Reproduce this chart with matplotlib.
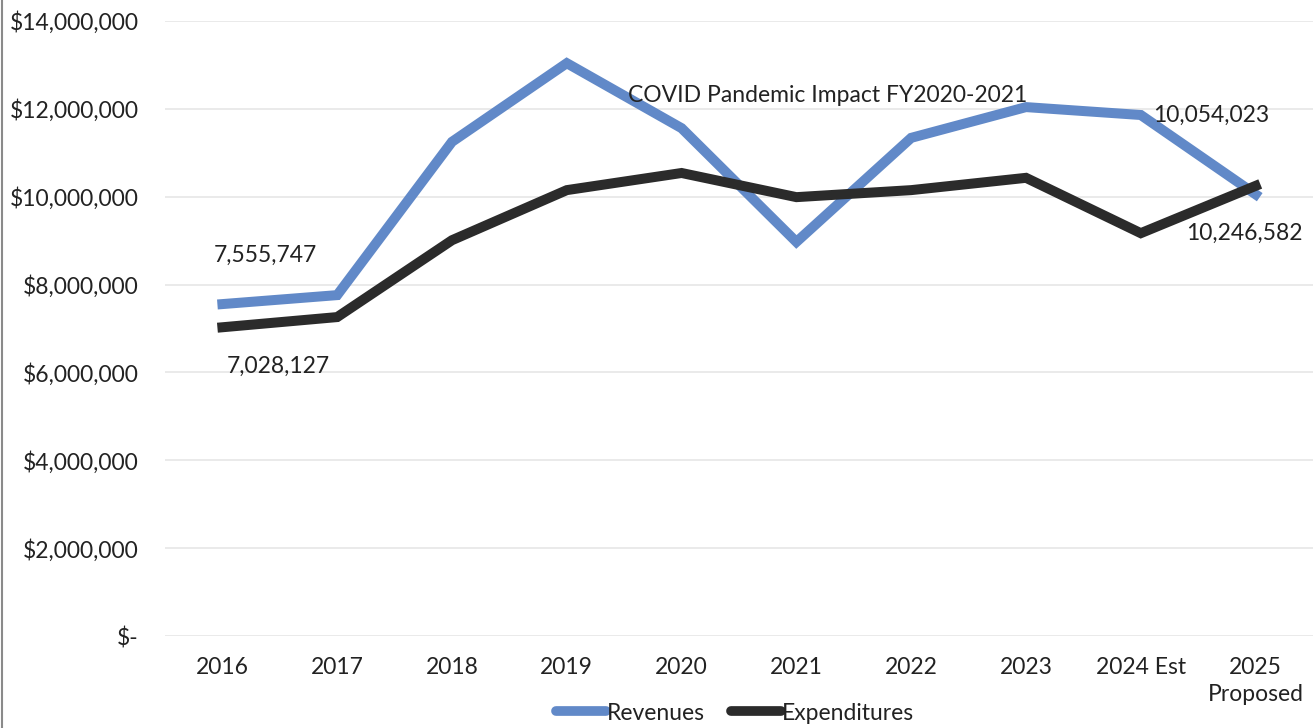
import matplotlib
matplotlib.use("Agg")
import matplotlib.pyplot as plt
from matplotlib.ticker import FuncFormatter
from matplotlib.lines import Line2D

plt.rcParams['font.family'] = ['Lato', 'DejaVu Sans']

years = ["2016", "2017", "2018", "2019", "2020", "2021", "2022", "2023",
         "2024 Est", "2025\nProposed"]
revenues = [7555747, 7760000, 11250000, 13040000, 11560000, 8970000,
            11340000, 12040000, 11860000, 10054023]
expenditures = [7028127, 7260000, 9010000, 10150000, 10540000, 9990000,
                10150000, 10430000, 9170000, 10246582]
y_ticks = [0, 2000000, 4000000, 6000000, 8000000, 10000000, 12000000, 14000000]
note = "COVID Pandemic Impact FY2020-2021"

blue = "#6189c8"
dark = "#2b2b2b"
fs = 16.5

fig = plt.figure(figsize=(13.13, 7.28), dpi=100)
ax = fig.add_axes([165 / 1313, 1 - 636 / 728, 1 - 165 / 1313, (636 - 21) / 728])

x = list(range(len(years)))
ax.plot(x, revenues, color=blue, lw=7.2, solid_joinstyle='miter', zorder=3)
ax.plot(x, expenditures, color=dark, lw=7.2, solid_joinstyle='miter', zorder=4)

ax.set_xlim(-0.5, len(years) - 0.5)
ax.set_ylim(0, 14000000)
ax.set_yticks(y_ticks)
ax.yaxis.set_major_formatter(FuncFormatter(
    lambda v, p: "$-" if v == 0 else f"${v:,.0f}"))
ax.set_xticks(x)
ax.set_xticklabels(years, fontsize=fs, color="#222222", linespacing=1.35)
ax.tick_params(axis='y', labelsize=fs, labelcolor="#222222", length=0, pad=19)
ax.tick_params(axis='x', length=0, pad=15)
for lbl in ax.get_xticklabels():
    lbl.set_verticalalignment('top')

ax.grid(axis='y', color="#e6e6e6", lw=1.2)
ax.set_axisbelow(True)
for s in ax.spines.values():
    s.set_visible(False)

# Data labels at the first and last points
def lab(i, series, dx, dy):
    ax.annotate(f"{series[i]:,.0f}", (x[i], series[i]), xytext=(dx, dy),
                textcoords='offset points', ha='center', va='center',
                fontsize=fs, color="#222222", zorder=5)

lab(0, revenues, 31, 35)
lab(0, expenditures, 40, -28)
lab(9, revenues, -32, 57)
lab(9, expenditures, -8, -34)

ax.text(3.53, 12310000, note, ha='left', va='center', fontsize=fs,
        color="#222222", zorder=5)

handles = [Line2D([], [], color=blue, lw=7, solid_capstyle='round'),
           Line2D([], [], color=dark, lw=7, solid_capstyle='round')]
fig.legend(handles, ["Revenues", "Expenditures"], loc='center',
           bbox_to_anchor=(735 / 1313, 1 - 713 / 728), ncol=2, frameon=False,
           fontsize=fs, handlelength=2.2, handletextpad=0.05,
           columnspacing=1.1, labelcolor="#222222")

# left page edge
fig.add_artist(Line2D([2 / 1313, 2 / 1313], [0, 1], color="#8a8a8a", lw=1.5,
                      transform=fig.transFigure))

fig.savefig("out.png", dpi=100, facecolor="white")
